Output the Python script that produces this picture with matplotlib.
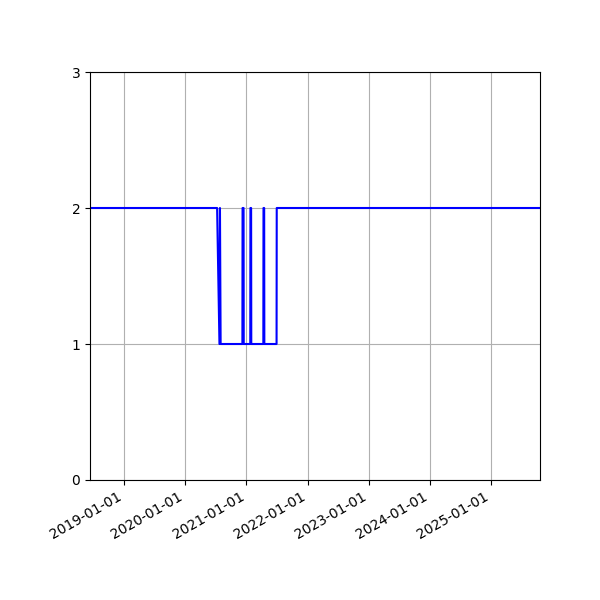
import numpy as np
import pandas as pd
import matplotlib
matplotlib.use('Agg')
import matplotlib.pyplot as plt
import matplotlib.dates as mdates

# data
dates = ['2018-06-12', '2020-07-10', '2020-07-24', '2020-07-27', '2020-07-31',
         '2020-12-08', '2020-12-09', '2020-12-15', '2020-12-16',
         '2021-01-24', '2021-01-25', '2021-01-29', '2021-01-30',
         '2021-04-12', '2021-04-13', '2021-04-17', '2021-04-18',
         '2021-06-30', '2021-07-01', '2025-10-20']
values = [2, 2, 1, 2, 1,
          1, 2, 2, 1,
          1, 2, 2, 1,
          1, 2, 2, 1,
          1, 2, 2]

x = pd.to_datetime(dates)

fig, ax = plt.subplots(figsize=(6, 6), dpi=100)
ax.plot(x, values, color='b')
ax.set_xlim(x[0], x[-1])
ax.set_ylim(0, 3)
ax.set_yticks([0, 1, 2, 3])
ax.xaxis.set_major_locator(mdates.YearLocator())
ax.xaxis.set_major_formatter(mdates.DateFormatter('%Y-%m-%d'))
ax.grid(True)
fig.autofmt_xdate()
fig.subplots_adjust(left=0.15, right=0.9, top=0.88, bottom=0.2)
fig.savefig('out.png')
